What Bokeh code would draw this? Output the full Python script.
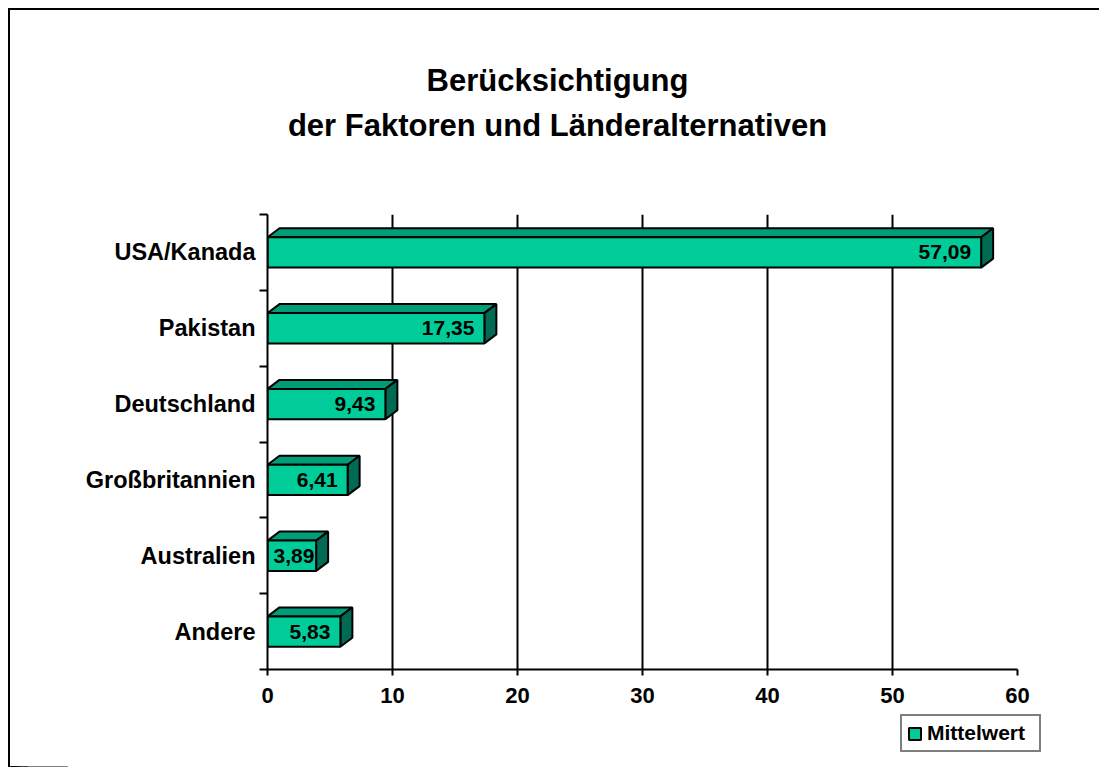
from bokeh.plotting import figure
from bokeh.layouts import column
from bokeh.models import FixedTicker, Legend, LegendItem, ColumnDataSource, Range1d, Label
from bokeh.embed import file_html
from bokeh.resources import INLINE
from bokeh.core.properties import value

# ---- data ----
categories = ["USA/Kanada", "Pakistan", "Deutschland", "Großbritannien", "Australien", "Andere"]
values = [57.09, 17.35, 9.43, 6.41, 3.89, 5.83]
value_labels = ["57,09", "17,35", "9,43", "6,41", "3,89", "5,83"]
x_ticks = [0, 10, 20, 30, 40, 50, 60]
series_name = "Mittelwert"
title_lines = ["Berücksichtigung", "der Faktoren und Länderalternativen"]

# ---- style / layout ----
FONT = "Liberation Sans"
FRONT, TOP, SIDE = "#00CC99", "#009E78", "#006B52"
W = 1089
TH, MH, LH = 200, 503, 54          # title / chart / legend strip heights
FL, FT, FW, FH = 257, 4, 750, 455   # chart frame
XMAX = x_ticks[-1]
n = len(categories)
centers = [n - 0.5 - i for i in range(n)]
bounds = list(range(n + 1))
half = 0.2
dx = 12 * XMAX / FW
dy = 9 * n / FH


def strip(h, y0=0):
    f = figure(width=W, height=h, output_backend="svg", toolbar_location=None,
               x_axis_location=None, y_axis_location=None,
               x_range=Range1d(0, W), y_range=Range1d(y0, y0 + h),
               min_border=0, background_fill_color="white", border_fill_color="white",
               frame_align=False)
    f.outline_line_color = None
    f.grid.visible = False
    return f


# ---- title strip ----
tf = strip(TH)
for line, ypos in zip(title_lines, (130, 85)):
    tf.add_layout(Label(x=547, y=ypos, x_units="screen", y_units="screen", text=line,
                        text_align="center", text_baseline="middle",
                        text_font=FONT, text_font_style="bold", text_font_size="31px",
                        text_color="black"))

# ---- chart ----
p = figure(width=W, height=MH, output_backend="svg", toolbar_location=None,
           x_range=Range1d(0, XMAX), y_range=Range1d(0, n),
           min_border_left=FL, min_border_top=FT,
           min_border_right=W - FL - FW, min_border_bottom=MH - FT - FH,
           background_fill_color="white", border_fill_color="white",
           frame_align=False)
p.outline_line_color = None
p.title.visible = False

p.ygrid.visible = False
p.xgrid.grid_line_color = "black"
p.xgrid.grid_line_width = 2
p.xgrid.grid_line_alpha = 1

xa = p.xaxis[0]
xa.ticker = FixedTicker(ticks=x_ticks)
xa.axis_line_width = 2
xa.major_tick_line_width = 2
xa.major_tick_out = 6
xa.major_tick_in = 0
xa.minor_tick_line_color = None
xa.major_label_text_font = FONT
xa.major_label_text_font_style = "bold"
xa.major_label_text_font_size = "22px"
xa.major_label_text_color = "black"
xa.major_label_standoff = 12

ya = p.yaxis[0]
ya.ticker = FixedTicker(ticks=centers, minor_ticks=bounds)
ya.major_label_overrides = {c: name for c, name in zip(centers, categories)}
ya.axis_line_width = 2
ya.major_tick_out = 0
ya.major_tick_in = 0
ya.major_tick_line_color = None
ya.minor_tick_line_width = 2
ya.minor_tick_out = 8
ya.minor_tick_in = 0
ya.major_label_text_font = FONT
ya.major_label_text_font_style = "bold"
ya.major_label_text_font_size = "23.5px"
ya.major_label_text_color = "black"
ya.major_label_standoff = 4

top_xs, top_ys, side_xs, side_ys = [], [], [], []
for v, c in zip(values, centers):
    top_xs.append([0, v, v + dx, dx])
    top_ys.append([c + half, c + half, c + half + dy, c + half + dy])
    side_xs.append([v, v + dx, v + dx, v])
    side_ys.append([c - half, c - half + dy, c + half + dy, c + half])

p.patches(top_xs, top_ys, fill_color=TOP, line_color="black", line_width=2)
p.patches(side_xs, side_ys, fill_color=SIDE, line_color="black", line_width=2)
src = ColumnDataSource(dict(y=centers, right=values))
p.hbar(y="y", right="right", left=0, height=2 * half, source=src,
       fill_color=FRONT, line_color="black", line_width=2)

label_x = [max(v, 4.55) for v in values]
p.text(x=label_x, y=centers, text=value_labels, x_offset=-10,
       text_align="right", text_baseline="middle",
       text_font=value(FONT), text_font_style="bold", text_font_size="21px",
       text_color="black")

# ---- legend strip (its y range lies away from the data, so only the legend shows) ----
lf = strip(LH, y0=1000)
swatch = lf.hbar(y="y", right="right", left=0, height=2 * half, source=src,
                 fill_color=FRONT, line_color="black", line_width=2)
legend = Legend(items=[LegendItem(label=series_name, renderers=[swatch])],
                location=(890, LH - 39), border_line_color="black", border_line_width=2,
                background_fill_color="white", background_fill_alpha=1,
                label_text_font=FONT, label_text_font_style="bold",
                label_text_font_size="21px", label_text_color="black",
                glyph_width=15, glyph_height=15, label_width=107,
                padding=5, margin=0, spacing=0, label_standoff=5)
lf.add_layout(legend)

layout = column(tf, p, lf, spacing=0)
layout.styles = {"border-left": "2px solid black", "border-top": "2px solid black",
                 "margin-left": "8px", "margin-top": "8px"}

open("out.html", "w").write(file_html(layout, INLINE))
